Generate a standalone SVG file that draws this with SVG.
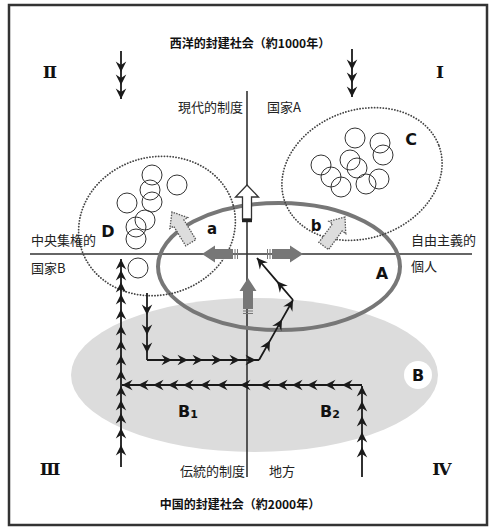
<svg xmlns="http://www.w3.org/2000/svg" width="491" height="528" viewBox="0 0 491 528">
  <defs>
    <style>
      .jp { font-family: "Noto Sans CJK JP", "Noto Sans", sans-serif; fill: #222; font-size: 13px; }
      .title { font-family: "Noto Sans CJK JP", "Noto Sans", sans-serif; fill: #111; font-size: 12px; font-weight: bold; }
      .roman { font-family: "DejaVu Serif", "Liberation Serif", serif; font-weight: bold; font-size: 17px; fill: #111; text-anchor: middle; }
      .lbl { font-family: "DejaVu Sans", "Liberation Sans", sans-serif; font-weight: bold; font-size: 16px; fill: #111; }
      .lbl-s { font-family: "DejaVu Sans", "Liberation Sans", sans-serif; font-weight: bold; font-size: 15px; fill: #111; }
      .axis { stroke: #333; stroke-width: 1.6; fill: none; }
      .dotted { fill: none; stroke: #444; stroke-width: 1.8; stroke-dasharray: 0.1 2.8; stroke-linecap: round; }
      .cell { fill: none; stroke: #333; stroke-width: 1; }
      .flow { fill: none; stroke: #1a1a1a; stroke-width: 1.8; marker-mid: url(#chev); }
      .flow-end { marker-end: url(#chev); }
      .gray-arrow { fill: #777; }
      .stripe { stroke: #777; stroke-width: 1; }
      .soft-arrow { fill: #ddd; stroke: #555; stroke-width: 1.3; stroke-dasharray: 1.5 1.2; }
    </style>
    <marker id="chev" markerUnits="userSpaceOnUse" markerWidth="14" markerHeight="14" refX="0" refY="0" viewBox="-10 -6 12 12" orient="auto">
      <path d="M0,0 L-9,-4.5 L-6,0 L-9,4.5 Z" fill="#1a1a1a"/>
    </marker>
    <!-- solid gray block arrow, pointing +x with its tip at the origin -->
    <g id="blockArrow">
      <path class="gray-arrow" d="M0,0 L-13,-8.5 L-13,-5 L-31,-5 L-31,5 L-13,5 L-13,8.5 Z"/>
      <line class="stripe" x1="-33" y1="-5" x2="-33" y2="5"/>
      <line class="stripe" x1="-35.5" y1="-5" x2="-35.5" y2="5"/>
    </g>
    <!-- light dotted-outline arrow, pointing +x with its tip at the origin -->
    <path id="softArrow" class="soft-arrow" d="M0,0 L-13,-10.5 L-13,-6 L-36,-6 L-36,6 L-13,6 L-13,10.5 Z"/>
  </defs>

  <rect width="491" height="528" fill="#fff"/>
  <rect id="frame" x="9" y="5" width="478" height="520" fill="none" stroke="#333" stroke-width="2.5"/>

  <!-- region B: large gray field -->
  <g id="region-B">
    <ellipse cx="254.5" cy="375" rx="183.5" ry="77" fill="#dcdcdc"/>
    <circle cx="418" cy="375" r="14" fill="#fff"/>
    <text class="lbl" x="418" y="381" text-anchor="middle">B</text>
    <text class="lbl" x="178" y="417">B<tspan font-size="11" dy="1">1</tspan></text>
    <text class="lbl" x="320" y="417">B<tspan font-size="11" dy="1">2</tspan></text>
  </g>

  <!-- axes -->
  <g id="axes">
    <line class="axis" x1="247" y1="91" x2="247" y2="477"/>
    <line class="axis" x1="30" y1="254" x2="472" y2="254"/>
  </g>

  <!-- region A -->
  <g id="region-A">
    <ellipse cx="279" cy="266.5" rx="121" ry="63.5" fill="none" stroke="#777" stroke-width="4"/>
    <text class="lbl" x="382" y="279" text-anchor="middle">A</text>
  </g>

  <!-- cluster D -->
  <g id="cluster-D">
    <ellipse class="dotted" cx="157" cy="226" rx="79" ry="69" transform="rotate(-15 157 226)"/>
    <circle class="cell" cx="152" cy="175" r="10"/>
    <circle class="cell" cx="177" cy="185" r="10"/>
    <circle class="cell" cx="150" cy="190" r="10"/>
    <circle class="cell" cx="152" cy="202" r="10"/>
    <circle class="cell" cx="127" cy="203" r="10"/>
    <circle class="cell" cx="145" cy="220" r="10"/>
    <circle class="cell" cx="136" cy="227" r="10"/>
    <circle class="cell" cx="136" cy="239" r="10"/>
    <circle class="cell" cx="138" cy="268" r="10"/>
    <text class="lbl" x="108" y="237" text-anchor="middle">D</text>
  </g>

  <!-- cluster C -->
  <g id="cluster-C">
    <ellipse class="dotted" cx="362" cy="174" rx="82" ry="64" transform="rotate(-20 362 174)"/>
    <circle class="cell" cx="355" cy="138" r="10"/>
    <circle class="cell" cx="380" cy="143" r="10"/>
    <circle class="cell" cx="383" cy="155" r="10"/>
    <circle class="cell" cx="350" cy="160" r="10" stroke="#111" stroke-width="1.5"/>
    <circle class="cell" cx="357" cy="168" r="10"/>
    <circle class="cell" cx="321" cy="165" r="10"/>
    <circle class="cell" cx="331" cy="177" r="10"/>
    <circle class="cell" cx="341" cy="187" r="10"/>
    <circle class="cell" cx="366" cy="184" r="10"/>
    <circle class="cell" cx="379" cy="179" r="10"/>
    <text class="lbl" x="411" y="145" text-anchor="middle">C</text>
  </g>

  <!-- movement arrows around the origin -->
  <g id="shifts">
    <use href="#blockArrow" transform="translate(202 254) rotate(180)"/>
    <use href="#blockArrow" transform="translate(303 254)"/>
    <use href="#blockArrow" transform="translate(248 278) rotate(-90)"/>
    <g id="up-modern">
      <path d="M247,185 L258.5,197 L251.5,197 L251.5,219 L242.5,219 L242.5,197 L235.5,197 Z" fill="#fff" stroke="#333" stroke-width="1.3"/>
      <rect x="242" y="219" width="10" height="3.2" fill="#222"/>
    </g>
    <use href="#softArrow" transform="translate(172 212) rotate(-121.5)"/>
    <use href="#softArrow" transform="translate(345 217) rotate(-53.7)"/>
    <text class="lbl-s" x="212" y="234" text-anchor="middle">a</text>
    <text class="lbl-s" x="316" y="231" text-anchor="middle">b</text>
  </g>

  <!-- connectors: chevron flows -->
  <g id="connectors">
    <polyline class="flow flow-end" points="121,51 121,72 121,85 121,99"/>
    <polyline class="flow flow-end" points="352,49 352,70 352,83 352,97"/>
    <polyline class="flow flow-end" points="121,467 121,445 121,428 121,413 121,400 121,386 121,370 121,355 121,340 121,325 121,309 121,294 121,282 121,270 121,259"/>
    <polyline class="flow" points="147,293 147,315 147,335 147,353 147,360"/>
    <polyline class="flow" points="147,360 172,360 188,360 203,360 222,360 240,360 256,360 259,360"/>
    <polyline class="flow flow-end" points="259,360 270,340.6 282,319.4 293,300"/>
    <polyline class="flow flow-end" points="293,300 277,281.3 257,258"/>
    <polyline class="flow flow-end" points="362,477 362,447 362,432 362,416 362,401 362,386"/>
    <polyline class="flow flow-end" points="362,385 342,385 325,385 307,385 292,385 277,385 260,385 240,385 217,385 200,385 183,385 168,385 153,385 138,385 122,385"/>
  </g>

  <!-- axis and era labels -->
  <g id="labels">
    <text class="title" x="250" y="48" text-anchor="middle">西洋的封建社会（約1000年）</text>
    <text class="title" x="240" y="509" text-anchor="middle">中国的封建社会（約2000年）</text>
    <text class="roman" x="50" y="78">Ⅱ</text>
    <text class="roman" x="440" y="78">Ⅰ</text>
    <text class="roman" x="50" y="475">Ⅲ</text>
    <text class="roman" x="442" y="475">Ⅳ</text>
    <text class="jp" x="243" y="112" text-anchor="end">現代的制度</text>
    <text class="jp" x="267" y="112">国家A</text>
    <text class="jp" x="245" y="476" text-anchor="end">伝統的制度</text>
    <text class="jp" x="269" y="476">地方</text>
    <text class="jp" x="31" y="245">中央集権的</text>
    <text class="jp" x="31" y="273">国家B</text>
    <text class="jp" x="411" y="245">自由主義的</text>
    <text class="jp" x="411" y="271">個人</text>
  </g>
</svg>
